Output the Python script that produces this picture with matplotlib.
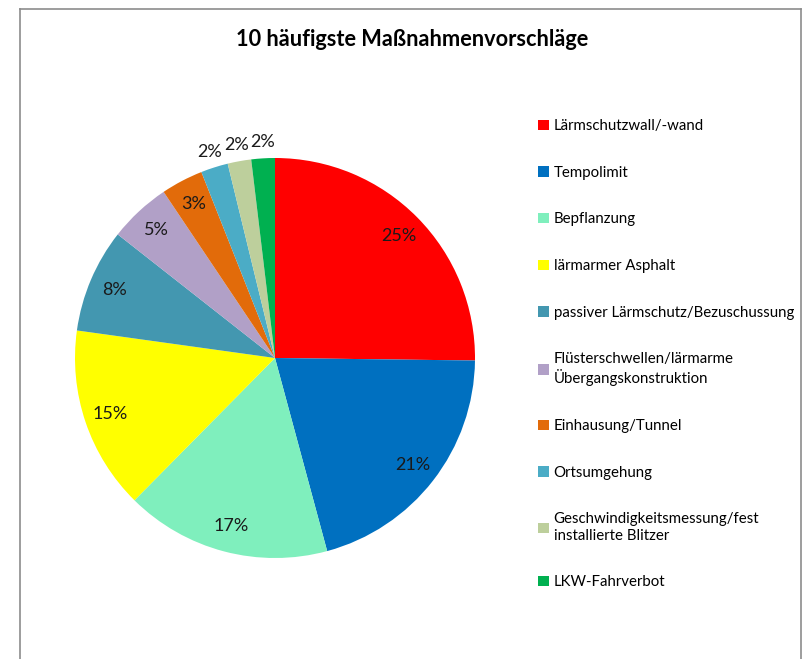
"""Pie chart: 10 most frequent noise-reduction measure proposals."""

import matplotlib

matplotlib.use("Agg")

import matplotlib.pyplot as plt  # noqa: E402
from matplotlib.lines import Line2D  # noqa: E402

plt.rcParams["font.family"] = ["Lato", "DejaVu Sans"]

TITLE = "10 häufigste Maßnahmenvorschläge"
categories = [
    "Lärmschutzwall/-wand",
    "Tempolimit",
    "Bepflanzung",
    "lärmarmer Asphalt",
    "passiver Lärmschutz/Bezuschussung",
    "Flüsterschwellen/lärmarme\nÜbergangskonstruktion",
    "Einhausung/Tunnel",
    "Ortsumgehung",
    "Geschwindigkeitsmessung/fest\ninstallierte Blitzer",
    "LKW-Fahrverbot",
]
shares = [25.2, 20.6, 16.6, 14.8, 8.4, 5.0, 3.4, 2.2, 1.9, 1.9]
colors = ["#FF0000", "#0070C0", "#7FEFBD", "#FFFF00", "#4397B0",
          "#B1A0C7", "#E26B0A", "#4BACC6", "#BDCF9C", "#00B050"]

W, H = 808, 659
fig = plt.figure(figsize=(W / 100, H / 100), dpi=100)

# chart frame (open at the bottom, as in the screenshot crop)
frame_kw = dict(color="#8c8c8c", linewidth=1.2, transform=fig.transFigure)
fig.add_artist(Line2D([20 / W, 20 / W], [0, 1 - 9 / H], **frame_kw))
fig.add_artist(Line2D([20 / W, 801 / W], [1 - 9 / H, 1 - 9 / H], **frame_kw))
fig.add_artist(Line2D([801 / W, 801 / W], [0, 1 - 9 / H], **frame_kw))

fig.text(412 / W, 1 - 40 / H, TITLE, ha="center", va="center",
         fontsize=15.7, fontweight="bold")

cx, cy, r = 275, 358, 200
ax = fig.add_axes([(cx - r) / W, (H - cy - r) / H, 2 * r / W, 2 * r / H])
wedges, texts, autotexts = ax.pie(
    shares, colors=colors, startangle=90, counterclock=False,
    autopct=lambda p: f"{p:.0f}%", pctdistance=0.87,
    wedgeprops=dict(linewidth=0),
    textprops=dict(fontsize=13, color="#1a1a1a"),
)
ax.set_xlim(-1, 1)
ax.set_ylim(-1, 1)
ax.set_aspect("equal")
ax.axis("off")

# small slices get their labels outside the pie
for val, t in zip(shares, autotexts):
    if val < 3:
        x, y = t.get_position()
        scale = 1.08 / 0.87
        t.set_position((x * scale, y * scale))

leg = fig.legend(
    wedges, categories, loc="upper left",
    bbox_to_anchor=(538 / W, 1 - 119 / H),
    frameon=False, fontsize=10.8, handlelength=0.7, handleheight=0.7,
    handletextpad=0.35, labelspacing=2.18, borderaxespad=0, borderpad=0,
)

fig.savefig("out.png", dpi=100)
